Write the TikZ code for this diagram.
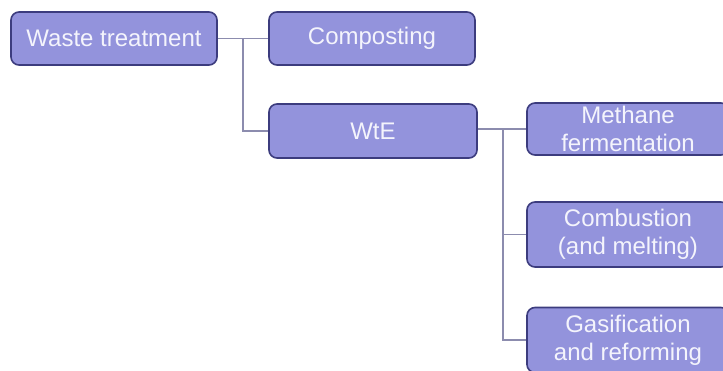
\documentclass[tikz,border=0pt]{standalone}
\usepackage{fontspec}
\setmainfont{Liberation Sans}
\definecolor{boxfill}{HTML}{9393DC}
\definecolor{boxline}{HTML}{3C3C7E}
\definecolor{conn}{HTML}{8C8CAE}
\definecolor{boxtext}{HTML}{F4F4FC}
\begin{document}
\begin{tikzpicture}[x=1pt,y=-1pt,
  box/.style={draw=boxline, fill=boxfill, line width=1.6pt, rounded corners=8pt,
    text=boxtext, font=\fontsize{24}{28}\selectfont, align=center, inner sep=0pt},
  link/.style={draw=conn, line width=1.8pt}]
\useasboundingbox (0,0) rectangle (723,371);
\clip (0,0) rectangle (723,371);
\fill[white] (0,0) rectangle (723,371);
\node[box, minimum width=206pt, minimum height=53pt] (waste) at (114,38.5) {Waste treatment};
\node[box, minimum width=206pt, minimum height=53pt] (comp) at (372,38.5) {Composting};
\node[box, minimum width=208pt, minimum height=54pt] (wte) at (373,131) {WtE};
\node[box, minimum width=202pt, minimum height=52pt] (meth) at (628,129) {Methane\\fermentation};
\node[box, minimum width=202pt, minimum height=65pt] (comb) at (628,234.5) {Combustion\\(and melting)};
\node[box, minimum width=202pt, minimum height=65pt] (gas) at (628,340) {Gasification\\and reforming};
\coordinate (j1) at (243,38.5);
\coordinate (j2) at (503,129);
\draw[link] (waste.east) -- (comp.west);
\draw[link] (j1) |- (wte.west);
\draw[link] (wte.east |- j2) -- (meth.west);
\draw[link] (j2) |- (comb.west);
\draw[link] (j2) |- (gas.west);
\end{tikzpicture}
\end{document}
